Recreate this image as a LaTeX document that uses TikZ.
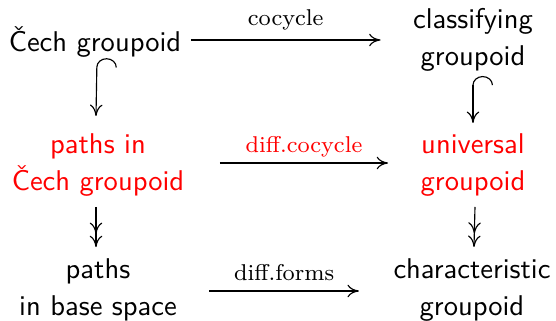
\documentclass[tikz,border=0pt]{standalone}
\usetikzlibrary{calc,arrows.meta}
\begin{document}
\begin{tikzpicture}[x=0.35pt,y=-0.35pt,
  obj/.style={font=\sffamily\fontsize{10}{13}\selectfont, align=center, inner sep=0pt},
  lbl/.style={font=\footnotesize, inner sep=0pt, anchor=base, yshift=4.3pt},
  tip/.tip={Computer Modern Rightarrow[length=4pt,width=4.4pt]},
  harr/.style={-tip, line width=0.4pt},
  hookarr/.style={{Hooks[right,width=14pt,length=3.2pt]}-tip, line width=0.4pt},
  epiarr/.style={-{tip[sep=0.6pt]tip}, line width=0.4pt}]
\useasboundingbox (0,0) rectangle (556,321);
\node[obj] (A) at (95,42) {Čech groupoid};
\node[obj] (B) at (473,40) {classifying\\groupoid};
\node[obj,text=red] (C) at (98,165) {paths in\\Čech groupoid};
\node[obj,text=red] (D) at (473,165) {universal\\groupoid};
\node[obj] (E) at (98,290) {paths\\in base space};
\node[obj] (F) at (472,290) {characteristic\\groupoid};
% horizontal
\draw[harr] ($(A.east |- 0,40)+(9,0)$) -- node[lbl,yshift=0.6pt] {cocycle} ($(B.west |- 0,40)+(-32,0)$);
\draw[harr] ($(C.east |- 0,163)+(35,0)$) -- node[lbl,text=red,yshift=-0.8pt] {diff.cocycle} ($(D.west |- 0,163)+(-32,0)$);
\draw[harr] ($(E.east |- 0,291)+(32,0)$) -- node[lbl,yshift=-0.8pt] {diff.forms} ($(F.west |- 0,291)+(-34,0)$);
% vertical
\draw[hookarr] ($(A.south |- 0,58)+(2,0)$) -- ($(C.north)+(-2,-17)$);
\draw[hookarr] ($(B.south |- 0,76)$) -- ($(D.north)+(0,-10)$);
\draw[epiarr] ($(C.south)+(-2,10)$) -- ($(E.north)+(-2,-11)$);
\draw[epiarr] ($(D.south)+(2,10)$) -- ($(F.north)+(2,-11)$);
\end{tikzpicture}
\end{document}
